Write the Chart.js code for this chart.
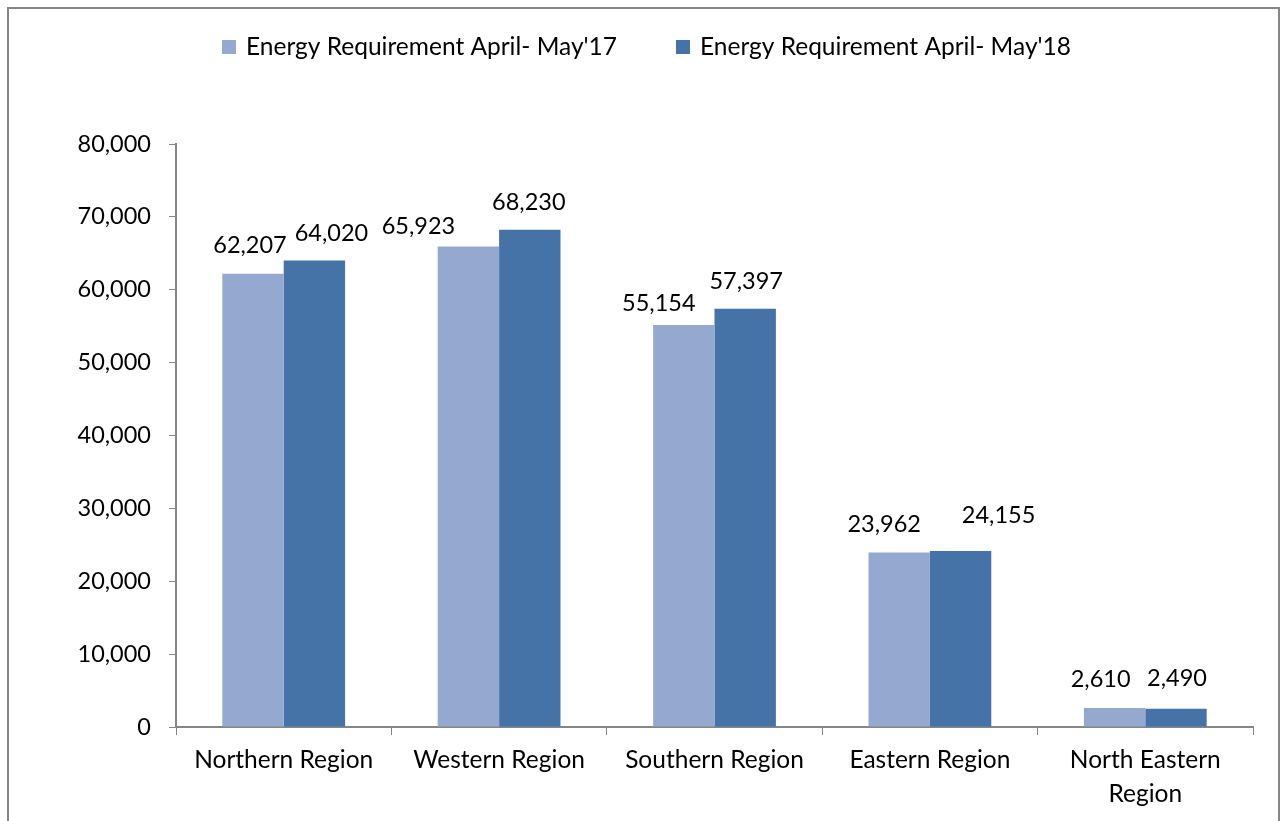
<!DOCTYPE html>
<html lang="en">
  <head>
    <title>Energy Requirement April-May</title>
    <meta charset="utf-8">
    <script src="https://cdn.jsdelivr.net/npm/chart.js@4.4.1/dist/chart.umd.min.js"></script>
    <style>
      body { margin: 0; background: #fff; }
      #wrap { position: relative; width: 1281px; height: 821px; }
    </style>
  </head>
  <body>
    <div id="wrap">
        <canvas id="myChart1" width="1281" height="821"></canvas>
    </div>
  </body>
  <script>
    // values
    var regions = ['Northern Region', 'Western Region', 'Southern Region', 'Eastern Region', ['North Eastern', 'Region']];
    var req2017 = [62207, 65923, 55154, 23962, 2610];
    var req2018 = [64020, 68230, 57397, 24155, 2490];
    var seriesNames = ["Energy Requirement April- May'17", "Energy Requirement April- May'18"];
    var yTicks = [0, 10000, 20000, 30000, 40000, 50000, 60000, 70000, 80000];

    var FONT = 'Lato';
    var axisGray = '#868686';

    // value labels get nudged like in the original (it moved them off each other)
    var labelNudge = [
        [[-3, -28], [-50, -20], [-25, -22], [-15, -28], [-14, -29]],
        [[17, -27], [-1, -27], [1, -27], [38, -36], [1, -30]]
    ];

    // frame + legend + value labels
    var extras = {
        id: 'extras',
        afterDatasetsDraw: function(chart) {
            var ctx = chart.ctx;
            ctx.save();
            ctx.font = '23.5px ' + FONT;
            ctx.fillStyle = '#000';
            ctx.textAlign = 'center';
            ctx.textBaseline = 'middle';
            chart.data.datasets.forEach(function(ds, i) {
                chart.getDatasetMeta(i).data.forEach(function(bar, j) {
                    var n = labelNudge[i][j];
                    ctx.fillText(ds.data[j].toLocaleString('en-US'), bar.x + n[0], bar.y + n[1]);
                });
            });
            ctx.restore();
        },
        afterDraw: function(chart) {
            var ctx = chart.ctx;
            ctx.save();
            ctx.strokeStyle = axisGray;
            ctx.lineWidth = 2;
            ctx.strokeRect(8, 8, 1271, 830);
            // legend
            ctx.font = '24.5px ' + FONT;
            ctx.textBaseline = 'middle';
            ctx.textAlign = 'left';
            var x = 222, gap = 59;
            chart.data.datasets.forEach(function(ds) {
                ctx.fillStyle = ds.backgroundColor;
                ctx.fillRect(x, 40, 14, 14);
                ctx.fillStyle = '#000';
                ctx.fillText(ds.label, x + 24, 47);
                x += 24 + ctx.measureText(ds.label).width + gap;
            });
            ctx.restore();
        }
    };

    var ctx = document.getElementById('myChart1').getContext('2d');
    var myChart1 = new Chart(ctx, {
        type: 'bar',
        data: {
            labels: regions,
            datasets: [{
                label: seriesNames[0],
                data: req2017,
                backgroundColor: '#95A9D0',
                categoryPercentage: 0.57,
                barPercentage: 1.0
            }, {
                label: seriesNames[1],
                data: req2018,
                backgroundColor: '#4573A7',
                categoryPercentage: 0.57,
                barPercentage: 1.0
            }]
        },
        options: {
            responsive: false,
            animation: false,
            layout: { padding: { top: 144, right: 28, left: 0, bottom: 0 } },
            plugins: {
                legend: { display: false },
                tooltip: { enabled: false }
            },
            scales: {
                x: {
                    grid: { drawOnChartArea: false, tickLength: 8, color: axisGray, offset: true },
                    border: { color: axisGray, width: 2 },
                    ticks: { color: '#000', font: { family: FONT, size: 24.5, lineHeight: 1.35 }, padding: 9, maxRotation: 0, autoSkip: false },
                    afterFit: function(s) { s.height = 94; }
                },
                y: {
                    min: 0,
                    max: 80000,
                    afterBuildTicks: function(s) { s.ticks = yTicks.map(function(v) { return { value: v }; }); },
                    grid: { drawOnChartArea: false, tickLength: 7, color: axisGray },
                    border: { color: axisGray, width: 2 },
                    ticks: {
                        color: '#000',
                        font: { family: FONT, size: 23.5 },
                        padding: 18,
                        callback: function(v) { return v.toLocaleString('en-US'); }
                    },
                    afterFit: function(s) { s.width = 176; }
                }
            }
        },
        plugins: [extras]
    });
  </script>
</html>
